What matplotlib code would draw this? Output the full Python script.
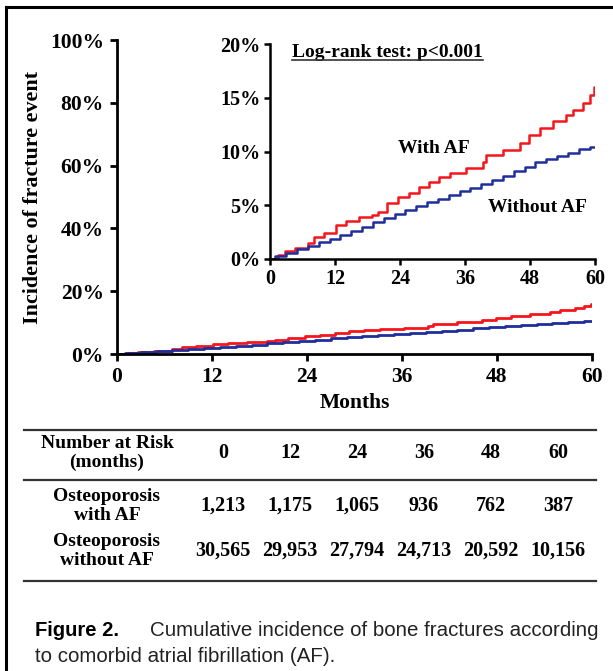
import matplotlib.pyplot as plt
from matplotlib.lines import Line2D
from matplotlib.ticker import FuncFormatter

# data
months_ticks = [0, 12, 24, 36, 48, 60]
with_af_months = [0, 1.4, 2.7, 4.7, 7, 8.2, 10, 12.1, 14, 16.4, 18.9, 20, 21.6, 23.7, 25.6, 27.5,
                  29.3, 31.2, 33.2, 36.2, 39.3, 39.9, 43, 46.1, 47.9, 49.8, 52.2, 54.7, 55.9,
                  57.8, 59, 59.9, 60]
with_af_pct = [0, 0.4, 0.77, 0.99, 1.46, 2.08, 2.45, 3.16, 3.57, 3.94, 4.1, 4.4, 5.18, 5.8, 6.1,
               6.7, 7.2, 7.6, 7.97, 8.43, 9.05, 9.67, 10.14, 10.76, 11.5, 12.16, 12.8, 13.4, 13.9,
               14.5, 15.26, 16.0, 16.0]
without_af_months = [0, 2, 4, 6, 8, 10, 12, 14, 16, 18, 20, 22, 24, 26, 28, 30, 32, 34, 36, 38,
                     40, 42, 44, 46, 48, 50, 52, 54, 56, 58, 60]
without_af_pct = [0, 0.3, 0.6, 0.92, 1.25, 1.58, 1.9, 2.25, 2.6, 3.0, 3.45, 3.85, 4.2, 4.6, 4.95,
                  5.3, 5.6, 5.95, 6.3, 6.65, 7.0, 7.35, 7.75, 8.15, 8.6, 9.05, 9.3, 9.6, 9.9,
                  10.2, 10.45]

risk_header = ["Number at Risk\n(months)"] + [str(m) for m in months_ticks]
risk_labels = ["Osteoporosis\nwith AF", "Osteoporosis\nwithout AF"]
risk_with_af = ["1,213", "1,175", "1,065", "936", "762", "387"]
risk_without_af = ["30,565", "29,953", "27,794", "24,713", "20,592", "10,156"]

RED = "#f5161c"
BLUE = "#1f2e9a"
SERIF = "Liberation Serif"

W, H = 613, 671
fig = plt.figure(figsize=(W / 100, H / 100), dpi=100)

pct_fmt = FuncFormatter(lambda v, p: f"{v:.0f}%")


def style_axes(ax, fs, lw, ticklen, pad):
    for s in ["top", "right"]:
        ax.spines[s].set_visible(False)
    for s in ["left", "bottom"]:
        ax.spines[s].set_linewidth(lw)
    ax.tick_params(direction="out", length=ticklen, width=lw, pad=pad)
    ax.set_xticks(months_ticks)
    ax.xaxis.set_major_formatter(FuncFormatter(lambda v, p: f"{v:.0f}"))
    ax.yaxis.set_major_formatter(pct_fmt)
    for lab in ax.get_xticklabels() + ax.get_yticklabels():
        lab.set_fontfamily(SERIF)
        lab.set_fontweight("bold")
        lab.set_fontsize(fs)


# main axes
ax = fig.add_axes([117 / W, 1 - 354 / H, 475 / W, 314 / H])
ax.step(with_af_months, with_af_pct, where="post", color=RED, lw=2.0)
ax.step(without_af_months, without_af_pct, where="mid", color=BLUE, lw=2.0)
ax.set_xlim(0, 60)
ax.set_ylim(0, 100)
ax.set_yticks([0, 20, 40, 60, 80, 100])
style_axes(ax, 15.5, 2.0, 5, 4.5)
ax.set_xlabel("Months", fontfamily=SERIF, fontweight="bold", fontsize=15.5, labelpad=4)
ax.set_ylabel("Incidence of fracture event", fontfamily=SERIF, fontweight="bold",
              fontsize=15.8, labelpad=5)

# inset
ins = fig.add_axes([270 / W, 1 - 259 / H, 325 / W, 215 / H])
ins.step(with_af_months, with_af_pct, where="post", color=RED, lw=1.8)
ins.step(without_af_months, without_af_pct, where="mid", color=BLUE, lw=1.8)
ins.set_xlim(0, 60)
ins.set_ylim(0, 20)
ins.set_yticks([0, 5, 10, 15, 20])
ins.patch.set_alpha(0)
style_axes(ins, 14.5, 1.8, 4, 3)
ins.text(30.3, 10.3, "With AF", fontfamily=SERIF, fontweight="bold", fontsize=14, ha="center",
         va="center")
ins.text(49.3, 4.8, "Without AF", fontfamily=SERIF, fontweight="bold", fontsize=14,
         ha="center", va="center")
lr = ins.text(0.068, 0.96, "Log-rank test: p<0.001", transform=ins.transAxes, fontfamily=SERIF,
              fontweight="bold", fontsize=14, ha="left", va="center")

# underline under the log-rank text
fig.canvas.draw()
bb = lr.get_window_extent().transformed(fig.transFigure.inverted())
fig.add_artist(Line2D([bb.x0, bb.x1], [bb.y0 + 0.001, bb.y0 + 0.001], color="#333333", lw=1.2))

# number at risk table
col_x = [107, 223, 290, 357, 424, 491, 558]
row_y = [453, 506, 551]
lfs, nfs = 14, 14.5
for i, txt in enumerate(risk_header):
    fig.text(col_x[i] / W, 1 - row_y[0] / H, txt, ha="center", va="center", fontfamily=SERIF,
             fontweight="bold", fontsize=lfs if i == 0 else nfs, linespacing=1.1)
for r, (lab, vals) in enumerate(zip(risk_labels, [risk_with_af, risk_without_af])):
    y = 1 - row_y[r + 1] / H
    fig.text(col_x[0] / W, y, lab, ha="center", va="center", fontfamily=SERIF, fontweight="bold",
             fontsize=lfs, linespacing=1.1)
    for c, v in enumerate(vals):
        fig.text(col_x[c + 1] / W, y, v, ha="center", va="center", fontfamily=SERIF,
                 fontweight="bold", fontsize=nfs)
for yy in [430, 480, 581]:
    fig.add_artist(Line2D([24 / W, 596 / W], [1 - yy / H, 1 - yy / H], color="#333333", lw=1.6))

# frame lines
fig.add_artist(Line2D([6 / W, 6 / W], [0, 1 - 7 / H], color="black", lw=2.2))
fig.add_artist(Line2D([6 / W, 1], [1 - 7 / H, 1 - 7 / H], color="black", lw=2.2))

# caption
fig.text(35 / W, 1 - 630 / H, "Figure 2.", fontfamily="Liberation Sans",
         fontweight="bold", fontsize=14.5, ha="left", va="center")
fig.text(150 / W, 1 - 630 / H, "Cumulative incidence of bone fractures according",
         fontfamily="Liberation Sans", fontsize=14.8, ha="left", va="center", color="#222222")
fig.text(35 / W, 1 - 657 / H, "to comorbid atrial fibrillation (AF).",
         fontfamily="Liberation Sans", fontsize=14.8, ha="left", va="center", color="#222222")

fig.savefig("out.png", dpi=100)
